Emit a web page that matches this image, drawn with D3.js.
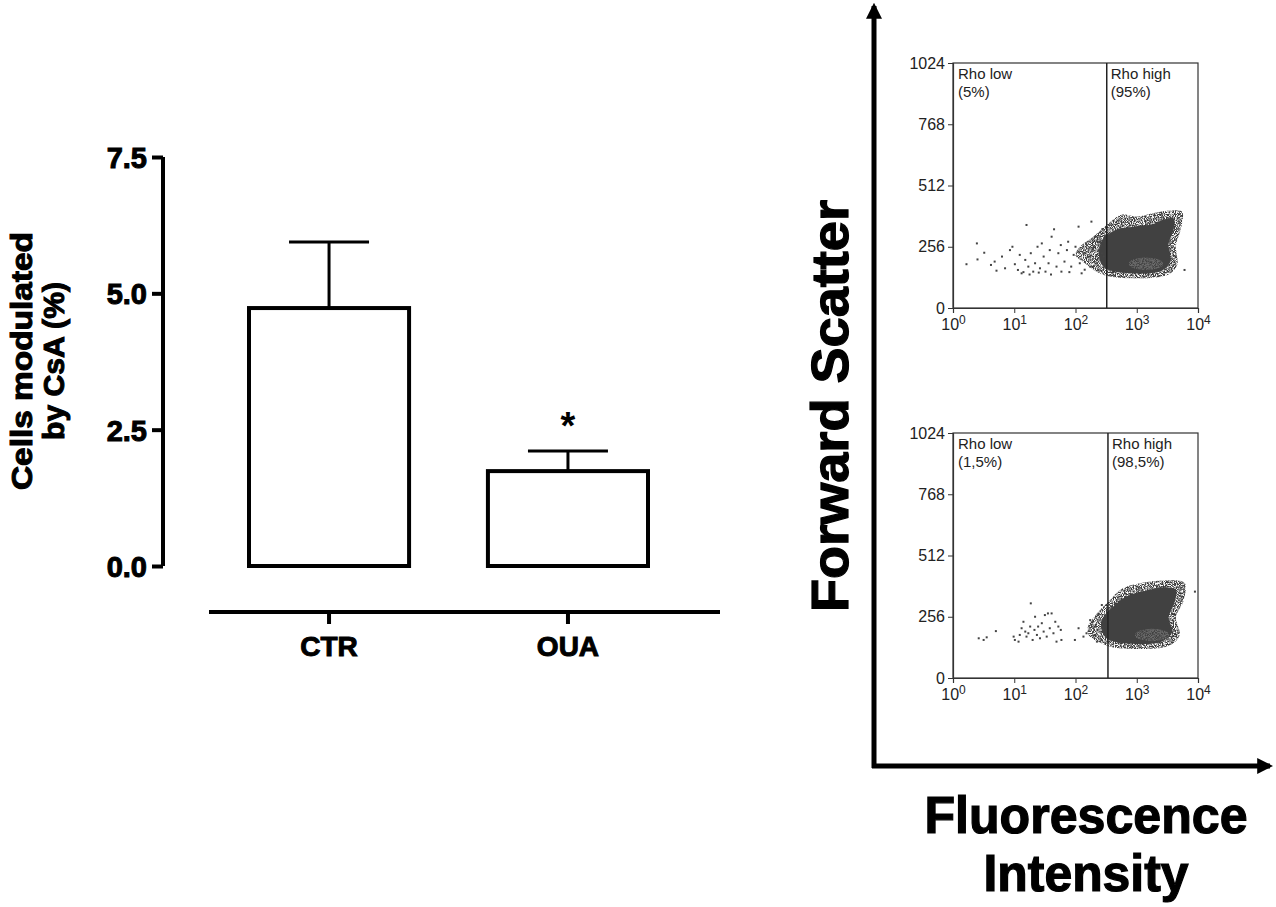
<!DOCTYPE html>
<html>
<head>
<meta charset="utf-8">
<script src="https://cdn.jsdelivr.net/npm/d3@7"></script>
<style>
  body { margin: 0; background: #fff; }
  svg { font-family: "Liberation Sans", Arial, sans-serif; }
</style>
</head>
<body>
<div id="chart"></div>
<script>
// ---- bar chart data ----
const groups = ["CTR", "OUA"];
const means = [4.73, 1.74];
const sems = [1.21, 0.37];
const signif = ["", "*"];
const yTicks = [0, 2.5, 5.0, 7.5];

// ---- flow cytometry data (x = log10 fluorescence, y = forward scatter) ----
const fscTicks = [0, 256, 512, 768, 1024];
const flTicks = [0, 1, 2, 3, 4];
const gateLog = [2.51, 2.53];
const gateLabels = [["Rho low", "(5%)", "Rho high", "(95%)"], ["Rho low", "(1,5%)", "Rho high", "(98,5%)"]];

const sparse1 = [[0.22,183],[0.39,270],[0.40,203],[0.51,231],[0.62,180],[0.68,194],[0.71,156],[0.80,215],[0.85,166],[0.93,242],
  [0.97,256],[1.01,183],[1.06,159],[1.09,222],[1.12,145],[1.15,150],[1.18,201],[1.20,347],[1.23,173],[1.25,140],[1.27,229],[1.31,152],
  [1.34,187],[1.38,256],[1.40,148],[1.42,166],[1.45,270],[1.48,215],[1.51,152],[1.56,187],[1.58,242],[1.60,140],[1.61,298],[1.65,329],
  [1.69,173],[1.72,229],[1.76,263],[1.77,152],[1.82,194],[1.86,242],[1.88,277],[1.90,150],[1.93,173],[1.97,222],[2.00,256],[2.05,340],
  [2.07,187],[2.10,145],[2.13,229],[2.15,160],[2.17,270],[2.20,215],[2.24,173],[2.26,361],[2.29,249],[2.30,175],[2.32,298],[2.35,201],
  [2.37,159],[2.38,240],[2.40,277],[2.42,260],[2.43,229],[2.44,330],[2.45,187],[2.46,215],[2.48,300],[3.78,159]];
const sparse2 = [[0.42,166],[0.50,159],[0.55,170],[0.70,196],[0.99,173],[1.01,159],[1.07,152],[1.09,180],[1.12,208],[1.15,235],
  [1.18,194],[1.20,173],[1.23,187],[1.26,215],[1.27,312],[1.30,159],[1.33,201],[1.34,256],[1.37,180],[1.39,215],[1.42,166],[1.45,229],
  [1.48,194],[1.50,263],[1.53,173],[1.55,270],[1.58,208],[1.61,270],[1.64,187],[1.67,235],[1.69,152],[1.72,215],[1.76,201],[1.77,159],
  [1.99,159],[2.05,208],[2.13,173],[2.18,187],[2.24,242],[2.26,222],[2.31,180],[2.35,152],[2.37,263],[2.43,305],[2.45,201],[3.95,361]];

const core1 = [[2.45,290],[2.70,330],[2.95,340],[3.25,350],[3.45,370],[3.60,375],[3.60,325],[3.52,270],[3.55,195],[3.40,155],[2.65,152],[2.45,175],[2.38,220],[2.40,260]];
const fringe1 = [[2.05,250],[2.30,300],[2.50,345],[2.75,390],[3.00,382],[3.30,398],[3.55,408],[3.74,402],[3.72,330],[3.64,262],[3.66,180],[3.50,138],[2.60,130],[2.35,150],[2.15,188],[2.00,220]];
const core2 = [[2.42,235],[2.58,290],[2.82,340],[3.10,362],[3.45,378],[3.64,368],[3.62,318],[3.52,255],[3.58,192],[3.40,152],[2.65,150],[2.48,172]];
const fringe2 = [[2.20,212],[2.35,270],[2.55,322],[2.75,372],[3.05,396],[3.45,408],[3.78,398],[3.76,320],[3.64,255],[3.70,178],[3.50,133],[2.62,128],[2.40,148],[2.22,178]];
const lightSpot = [[3.15,185],[3.25,180]];

const panels = [
  { top: 63, sparse: sparse1, core: core1, fringe: fringe1, gate: gateLog[0], labels: gateLabels[0], light: lightSpot[0] },
  { top: 433, sparse: sparse2, core: core2, fringe: fringe2, gate: gateLog[1], labels: gateLabels[1], light: lightSpot[1] }
];

const W = 1276, H = 907;
const svg = d3.select("#chart").append("svg").attr("width", W).attr("height", H);
const defs = svg.append("defs");

// grainy look for the dense event clouds
const grain = defs.append("filter").attr("id", "grain").attr("x", "-10%").attr("y", "-10%").attr("width", "120%").attr("height", "120%");
grain.append("feTurbulence").attr("type", "fractalNoise").attr("baseFrequency", 1.1).attr("numOctaves", 1).attr("seed", 3).attr("result", "n");
grain.append("feColorMatrix").attr("in", "n").attr("type", "matrix")
  .attr("values", "0 0 0 0 0  0 0 0 0 0  0 0 0 0 0  4 0 0 0 -1.4").attr("result", "m");
grain.append("feComposite").attr("in", "SourceGraphic").attr("in2", "m").attr("operator", "in");

// ================= bar chart =================
const y = d3.scaleLinear().domain([0, 7.5]).range([566, 157]);
const x = d3.scaleBand().domain(groups).range([249, 648]).paddingInner(0.33).paddingOuter(0);

const yAxis = svg.append("g")
  .attr("transform", "translate(163,0)")
  .call(d3.axisLeft(y).tickValues(yTicks).tickFormat(d3.format(".1f")).tickSize(11).tickPadding(5));
yAxis.select(".domain").attr("stroke", "#000").attr("stroke-width", 4).attr("d", "M0," + y(7.5) + "V" + y(0));
yAxis.selectAll(".tick line").attr("stroke-width", 4);
yAxis.selectAll(".tick text").attr("font-size", 29).attr("font-weight", "bold").attr("fill", "#000")
  .attr("stroke", "#000").attr("stroke-width", 1).attr("dy", "0.36em");

const xAxis = svg.append("g")
  .attr("transform", "translate(0,612)")
  .call(d3.axisBottom(x).tickSize(12).tickPadding(12));
xAxis.select(".domain").attr("stroke-width", 4).attr("d", "M209,0H720");
xAxis.selectAll(".tick line").attr("stroke-width", 4);
xAxis.selectAll(".tick text").attr("font-size", 28).attr("font-weight", "bold").attr("fill", "#000")
  .attr("stroke", "#000").attr("stroke-width", 1);

const bars = svg.append("g").selectAll("g").data(groups).join("g");
bars.append("line")
  .attr("x1", d => x(d) + x.bandwidth() / 2).attr("x2", d => x(d) + x.bandwidth() / 2)
  .attr("y1", (d, i) => y(means[i])).attr("y2", (d, i) => y(means[i] + sems[i]))
  .attr("stroke", "#000").attr("stroke-width", 3);
bars.append("line")
  .attr("x1", d => x(d) + x.bandwidth() / 2 - 40).attr("x2", d => x(d) + x.bandwidth() / 2 + 40)
  .attr("y1", (d, i) => y(means[i] + sems[i])).attr("y2", (d, i) => y(means[i] + sems[i]))
  .attr("stroke", "#000").attr("stroke-width", 3);
bars.append("rect")
  .attr("x", d => x(d)).attr("width", x.bandwidth())
  .attr("y", (d, i) => y(means[i])).attr("height", (d, i) => y(0) - y(means[i]))
  .attr("fill", "#fff").attr("stroke", "#000").attr("stroke-width", 4);
bars.append("text")
  .attr("x", d => x(d) + x.bandwidth() / 2)
  .attr("y", (d, i) => y(means[i] + sems[i]) - 12)
  .attr("text-anchor", "middle").attr("font-size", 38).attr("font-weight", "bold")
  .text((d, i) => signif[i]);

const yTitle = svg.append("g").attr("transform", "translate(0,361)");
[["Cells modulated", 32, 258], ["by CsA (%)", 64, 158]].forEach(t => {
  yTitle.append("text")
    .attr("transform", "translate(" + t[1] + ",0) rotate(-90)")
    .attr("text-anchor", "middle").attr("font-size", 29).attr("font-weight", "bold")
    .attr("stroke", "#000").attr("stroke-width", 1)
    .attr("textLength", t[2]).attr("lengthAdjust", "spacingAndGlyphs").text(t[0]);
});

// ================= flow cytometry panels =================
const fx = d3.scaleLinear().domain([0, 4]).range([953, 1198]);

panels.forEach(p => {
  const fy = d3.scaleLinear().domain([0, 1024]).range([p.top + 245, p.top]);
  const g = svg.append("g");

  g.append("rect").attr("x", fx(0)).attr("y", fy(1024))
    .attr("width", fx(4) - fx(0)).attr("height", fy(0) - fy(1024))
    .attr("fill", "none").attr("stroke", "#333").attr("stroke-width", 1.2);

  const line = d3.line().x(d => fx(d[0])).y(d => fy(d[1])).curve(d3.curveCatmullRomClosed.alpha(0.5));
  g.append("path").attr("d", line(p.fringe)).attr("fill", "#3a3a3a").attr("filter", "url(#grain)");
  g.append("path").attr("d", line(p.core)).attr("fill", "#414141");
  g.append("ellipse").attr("cx", fx(p.light[0])).attr("cy", fy(p.light[1]))
    .attr("rx", fx(0.28) - fx(0)).attr("ry", fy(0) - fy(26)).attr("fill", "#6a6a6a")
    .attr("filter", "url(#grain)");

  g.selectAll("rect.pt").data(p.sparse).join("rect").attr("class", "pt")
    .attr("x", d => fx(d[0]) - 1).attr("y", d => fy(d[1]) - 1).attr("width", 2).attr("height", 2).attr("fill", "#444");

  g.append("line").attr("x1", fx(p.gate)).attr("x2", fx(p.gate))
    .attr("y1", fy(1024)).attr("y2", fy(0)).attr("stroke", "#222").attr("stroke-width", 1.5);

  const ya = g.append("g").attr("transform", "translate(" + fx(0) + ",0)")
    .call(d3.axisLeft(fy).tickValues(fscTicks).tickFormat(d3.format("d")).tickSize(5).tickPadding(3));
  ya.select(".domain").attr("stroke", "#333").attr("stroke-width", 1.2);
  ya.selectAll(".tick line").attr("stroke", "#333");
  ya.selectAll(".tick text").attr("font-size", 16).attr("fill", "#222");

  const xa = g.append("g").attr("transform", "translate(0," + fy(0) + ")")
    .call(d3.axisBottom(fx).tickValues(flTicks).tickSize(5).tickPadding(4).tickFormat(""));
  xa.select(".domain").attr("stroke", "#333").attr("stroke-width", 1.2);
  xa.selectAll(".tick line").attr("stroke", "#333");
  xa.selectAll(".tick").append("text").attr("y", 22).attr("text-anchor", "middle")
    .attr("font-size", 16).attr("fill", "#222")
    .each(function(d) {
      const t = d3.select(this);
      t.append("tspan").text("10");
      t.append("tspan").attr("dy", -6).attr("font-size", 12).text(d);
    });

  const lab = [[fx(0) + 5, p.labels[0], p.labels[1]], [fx(p.gate) + 4, p.labels[2], p.labels[3]]];
  lab.forEach(l => {
    const t = g.append("text").attr("x", l[0]).attr("y", fy(1024) + 16).attr("font-size", 15).attr("fill", "#222");
    t.append("tspan").attr("x", l[0]).text(l[1]);
    t.append("tspan").attr("x", l[0]).attr("dy", 18).text(l[2]);
  });
});

// big axes with arrows
defs.append("marker").attr("id", "arr").attr("viewBox", "0 0 10 10")
  .attr("refX", 8).attr("refY", 5).attr("markerWidth", 3.2).attr("markerHeight", 3.2)
  .attr("orient", "auto").append("path").attr("d", "M0,0L10,5L0,10z").attr("fill", "#000");
svg.append("line").attr("x1", 874).attr("y1", 768).attr("x2", 874).attr("y2", 6)
  .attr("stroke", "#000").attr("stroke-width", 5).attr("marker-end", "url(#arr)");
svg.append("line").attr("x1", 872).attr("y1", 766).attr("x2", 1270).attr("y2", 766)
  .attr("stroke", "#000").attr("stroke-width", 5).attr("marker-end", "url(#arr)");

svg.append("text").attr("transform", "translate(848,406) rotate(-90)")
  .attr("text-anchor", "middle").attr("font-size", 52).attr("font-weight", "bold")
  .attr("textLength", 412).attr("lengthAdjust", "spacingAndGlyphs")
  .attr("stroke", "#000").attr("stroke-width", 1.2).text("Forward Scatter");
svg.append("text").attr("x", 1086).attr("y", 833)
  .attr("text-anchor", "middle").attr("font-size", 52).attr("font-weight", "bold")
  .attr("textLength", 323).attr("lengthAdjust", "spacingAndGlyphs")
  .attr("stroke", "#000").attr("stroke-width", 1.2).text("Fluorescence");
svg.append("text").attr("x", 1086).attr("y", 891)
  .attr("text-anchor", "middle").attr("font-size", 52).attr("font-weight", "bold")
  .attr("textLength", 205).attr("lengthAdjust", "spacingAndGlyphs")
  .attr("stroke", "#000").attr("stroke-width", 1.2).text("Intensity");
</script>
</body>
</html>
